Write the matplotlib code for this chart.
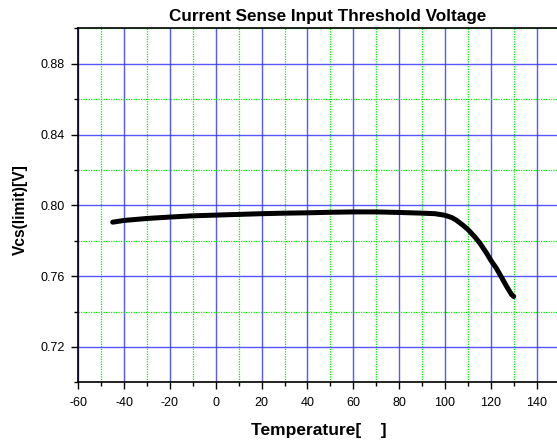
import matplotlib
matplotlib.use("Agg")
import matplotlib.pyplot as plt
from matplotlib.ticker import MultipleLocator, FormatStrFormatter

temperature = [-45, -40, -30, -20, -10, 0, 10, 20, 30, 40, 50, 60, 70, 80, 90, 95.6, 100, 103, 105, 108, 110, 113.2, 115.3, 118.2, 120, 122.5, 124.7, 126.8, 129, 130]
vcs_limit = [0.7905, 0.7915, 0.7926, 0.7934, 0.7941, 0.7945, 0.7949, 0.7953, 0.7956, 0.7958, 0.7961, 0.7963, 0.7963, 0.7960, 0.7956, 0.7953, 0.7944, 0.7931, 0.7916, 0.7886, 0.7864, 0.7819, 0.7785, 0.7729, 0.7690, 0.7643, 0.7593, 0.7544, 0.7497, 0.7485]

title = "Current Sense Input Threshold Voltage"
xlabel = "Temperature[    ]"
ylabel = "Vcs(limit)[V]"

plt.rcParams['font.family'] = ['Liberation Sans', 'DejaVu Sans']
plt.rcParams['axes.unicode_minus'] = False

fig = plt.figure(figsize=(5.57, 4.47), dpi=100)
ax = fig.add_axes([0.1406, 0.1447, 0.864, 0.7917])

ax.set_xlim(-60, 150)
ax.set_ylim(0.70, 0.90)
ax.xaxis.set_major_locator(MultipleLocator(20))
ax.xaxis.set_minor_locator(MultipleLocator(10))
ax.yaxis.set_major_locator(MultipleLocator(0.04))
ax.yaxis.set_minor_locator(MultipleLocator(0.02))
ax.yaxis.set_major_formatter(FormatStrFormatter('%.2f'))

ax.grid(which='major', color='#3a3aff', alpha=0.85, linewidth=1.0, linestyle='-')
ax.grid(which='minor', color='#00ee00', linewidth=0.9, linestyle=(0, (1, 1)))
ax.set_axisbelow(True)

ax.plot(temperature, vcs_limit, color='black', linewidth=3.6, solid_capstyle='round', solid_joinstyle='round')

ax.tick_params(which='major', direction='out', length=5, width=1.0, labelsize=9, top=False, right=False)
ax.tick_params(axis='x', which='major', pad=5.3)
ax.tick_params(axis='y', which='major', pad=4.8)
ax.tick_params(which='minor', direction='out', length=3, width=1.0, top=False, right=False)

for s in ['left', 'bottom', 'top']:
    ax.spines[s].set_linewidth(1.2)
ax.spines['right'].set_visible(False)

ax.set_title(title, fontsize=12.3, fontweight='bold', pad=5.5, x=0.519)
ax.set_xlabel(xlabel, fontsize=12.5, fontweight='bold')
ax.set_ylabel(ylabel, fontsize=11.2, fontweight='bold')
ax.xaxis.set_label_coords(0.5, -0.1348)
ax.xaxis.label.set_verticalalignment('center')
ax.yaxis.set_label_coords(-0.120, 0.487)
ax.yaxis.label.set_verticalalignment('center')

fig.savefig("out.png", dpi=100)
